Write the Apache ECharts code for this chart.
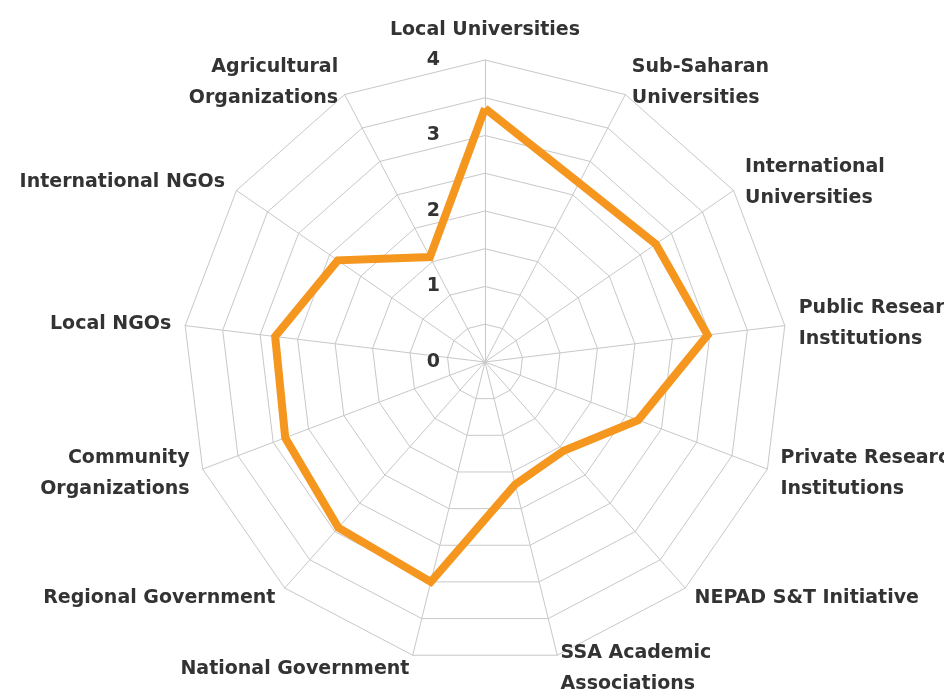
<!DOCTYPE html>
<html>
<head>
<meta charset="utf-8">
<script src="https://cdn.jsdelivr.net/npm/echarts@6/dist/echarts.min.js"></script>
<style>html,body{margin:0;padding:0;background:#fff;}#c{width:944px;height:691px;}</style>
</head>
<body>
<div id="c"></div>
<script>
// Categories listed clockwise starting from the top axis
var categories = [
  'Local Universities',
  'Sub-Saharan\nUniversities',
  'International\nUniversities',
  'Public Research\nInstitutions',
  'Private Research\nInstitutions',
  'NEPAD S&T Initiative',
  'SSA Academic\nAssociations',
  'National Government',
  'Regional Government',
  'Community\nOrganizations',
  'Local NGOs',
  'International NGOs',
  'Agricultural\nOrganizations'
];
var values = [3.36, 2.68, 2.75, 2.97, 2.17, 1.57, 1.67, 3.0, 2.93, 2.83, 2.8, 2.37, 1.57];
var tickLabels = ['0', '1', '2', '3', '4'];
var axisMax = 4;

// ECharts radar runs counter-clockwise, so reorder to read clockwise
function toCCW(arr) { return [arr[0]].concat(arr.slice(1).reverse()); }
var indCats = toCCW(categories);
var indVals = toCCW(values);

var FONT = 'DejaVu Sans';
var CENTER = [485, 362];
var RADIUS = 302;
var chart = echarts.init(document.getElementById('c'));
chart.setOption({
  backgroundColor: '#fff',
  animation: false,
  radar: {
    center: CENTER,
    radius: RADIUS,
    startAngle: 90,
    splitNumber: 8,
    shape: 'polygon',
    indicator: indCats.map(function (n) { return { name: n, min: 0, max: axisMax }; }),
    axisName: {
      color: '#333',
      fontSize: 19,
      fontWeight: 'bold',
      fontFamily: FONT,
      lineHeight: 31
    },
    nameGap: 14,
    axisLine: { lineStyle: { color: '#c8c8c8', width: 1 } },
    splitLine: { lineStyle: { color: '#c8c8c8', width: 1 } },
    splitArea: { show: false },
    axisTick: { show: false },
    axisLabel: { show: false }
  },
  polar: { center: CENTER, radius: RADIUS },
  angleAxis: {
    type: 'value', startAngle: 90, min: 0, max: 360,
    axisLine: { show: false }, axisTick: { show: false },
    axisLabel: { show: false }, splitLine: { show: false }
  },
  radiusAxis: {
    type: 'value', min: 0, max: axisMax, interval: 1,
    axisLine: { show: false }, axisTick: { show: false }, splitLine: { show: false },
    axisLabel: {
      color: '#333', fontSize: 19, fontWeight: 'bold', fontFamily: FONT, margin: 45,
      formatter: function (v) { return tickLabels[Math.round(v)] || ''; }
    }
  },
  series: [{
    type: 'radar',
    symbol: 'none',
    lineStyle: { color: '#F5961F', width: 8, join: 'miter' },
    data: [{ value: indVals, name: 'Score' }]
  }]
});
</script>
</body>
</html>
